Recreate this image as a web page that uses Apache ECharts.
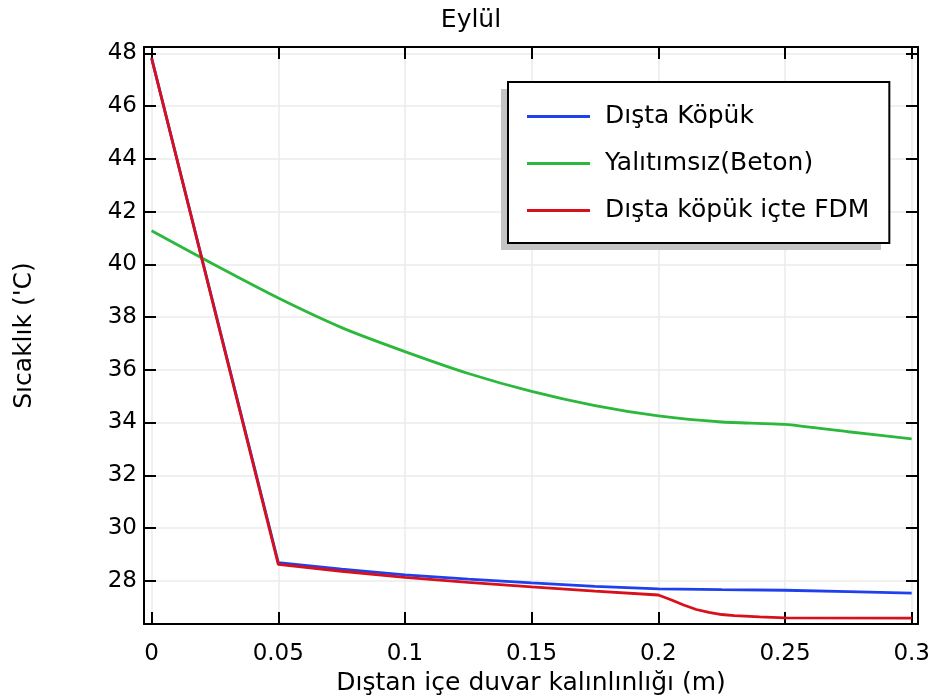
<!DOCTYPE html>
<html>
<head>
<meta charset="utf-8">
<script src="https://cdn.jsdelivr.net/npm/echarts@6/dist/echarts.min.js"></script>
<style>
html,body{margin:0;padding:0;background:#fff;}
#c{width:932px;height:696px;}
</style>
</head>
<body>
<div id="c"></div>
<script>
var titleText = 'Eylül';
var xName = 'Dıştan içe duvar kalınlınlığı (m)';
var yName = "Sıcaklık ('C)";
var seriesNames = ['Dışta Köpük', 'Yalıtımsız(Beton)', 'Dışta köpük içte FDM'];

var blueX = [0, 0.05, 0.075, 0.1, 0.125, 0.15, 0.175, 0.2, 0.225, 0.25, 0.275, 0.3];
var blueY = [47.82, 28.69, 28.44, 28.22, 28.06, 27.92, 27.79, 27.69, 27.66, 27.64, 27.59, 27.53];

var greenX = [0, 0.025, 0.05, 0.075, 0.1, 0.125, 0.15, 0.175, 0.2, 0.225, 0.25, 0.275, 0.3];
var greenY = [41.27, 39.97, 38.72, 37.6, 36.69, 35.86, 35.18, 34.64, 34.25, 34.02, 33.93, 33.65, 33.38];

var redX = [0, 0.05, 0.075, 0.1, 0.125, 0.15, 0.175, 0.2, 0.205, 0.21, 0.215, 0.22, 0.225, 0.23, 0.24, 0.25, 0.3];
var redY = [47.82, 28.62, 28.36, 28.13, 27.94, 27.77, 27.61, 27.46, 27.28, 27.08, 26.91, 26.8, 26.72, 26.68, 26.63, 26.59, 26.58];

function pairs(xs, ys) { return xs.map(function (x, i) { return [x, ys[i]]; }); }

var FONT = 'DejaVu Sans';
var xMin = -0.003, xMax = 0.3025, yMin = 26.36, yMax = 48.24;

function xAxisCfg(pos, showLabels) {
  return {
    type: 'value', position: pos, min: xMin, max: xMax, splitNumber: 6,
    axisLine: { show: true, onZero: false, lineStyle: { color: '#000', width: 2 } },
    axisTick: { show: true, inside: true, length: 12, lineStyle: { color: '#000', width: 2 } },
    axisLabel: { show: showLabels, showMinLabel: false, showMaxLabel: false, margin: 19,
      fontFamily: FONT, fontSize: 23, color: '#000' },
    splitLine: { show: showLabels, lineStyle: { color: '#ebebeb', width: 1.5 } },
    name: showLabels ? xName : '', nameLocation: 'middle', nameGap: 45,
    nameTextStyle: { fontFamily: FONT, fontSize: 25, color: '#000' }
  };
}
function yAxisCfg(pos, showLabels) {
  return {
    type: 'value', position: pos, min: yMin, max: yMax, splitNumber: 11,
    axisLine: { show: true, onZero: false, lineStyle: { color: '#000', width: 2 } },
    axisTick: { show: true, inside: true, length: 12, lineStyle: { color: '#000', width: 2 } },
    axisLabel: { show: showLabels, showMinLabel: false, showMaxLabel: false, margin: 7,
      fontFamily: FONT, fontSize: 23, color: '#000' },
    splitLine: { show: showLabels, lineStyle: { color: '#ebebeb', width: 1.5 } },
    name: showLabels ? yName : '', nameLocation: 'middle', nameGap: 107,
    nameTextStyle: { fontFamily: FONT, fontSize: 25, color: '#000' }
  };
}

var chart = echarts.init(document.getElementById('c'), null, { renderer: 'canvas' });
chart.setOption({
  animation: false,
  backgroundColor: '#fff',
  title: { text: titleText, left: 466, textAlign: 'center', top: 3,
    textStyle: { fontFamily: FONT, fontSize: 25, fontWeight: 'normal', color: '#000' } },
  grid: { left: 144, right: 14, top: 47, bottom: 72, containLabel: false, outerBoundsMode: 'none' },
  xAxis: [xAxisCfg('bottom', true), xAxisCfg('top', false)],
  yAxis: [yAxisCfg('left', true), yAxisCfg('right', false)],
  graphic: [{
    type: 'rect', z: 1, silent: true,
    shape: { x: 501, y: 89, width: 380, height: 161 },
    style: { fill: '#c4c4c4' }
  }],
  legend: {
    orient: 'vertical', left: 508, top: 82, z: 5,
    data: seriesNames,
    icon: 'rect', itemWidth: 63, itemHeight: 3, itemGap: 22,
    padding: [22, 20, 20, 19],
    backgroundColor: '#fff', borderColor: '#000', borderWidth: 2,
    textStyle: { fontFamily: FONT, fontSize: 25, lineHeight: 25, color: '#000', padding: [0, 0, 0, 10] }
  },
  series: [
    { name: seriesNames[0], type: 'line', data: pairs(blueX, blueY), showSymbol: false, symbol: 'none',
      color: '#1f40ee', lineStyle: { width: 2.8, color: '#1f40ee' }, z: 2 },
    { name: seriesNames[1], type: 'line', data: pairs(greenX, greenY), showSymbol: false, symbol: 'none', smooth: 0.2,
      color: '#2cb83c', lineStyle: { width: 2.8, color: '#2cb83c' }, z: 3 },
    { name: seriesNames[2], type: 'line', data: pairs(redX, redY), showSymbol: false, symbol: 'none',
      color: '#d8101c', lineStyle: { width: 2.8, color: '#d8101c' }, z: 4 }
  ]
});
</script>
</body>
</html>
